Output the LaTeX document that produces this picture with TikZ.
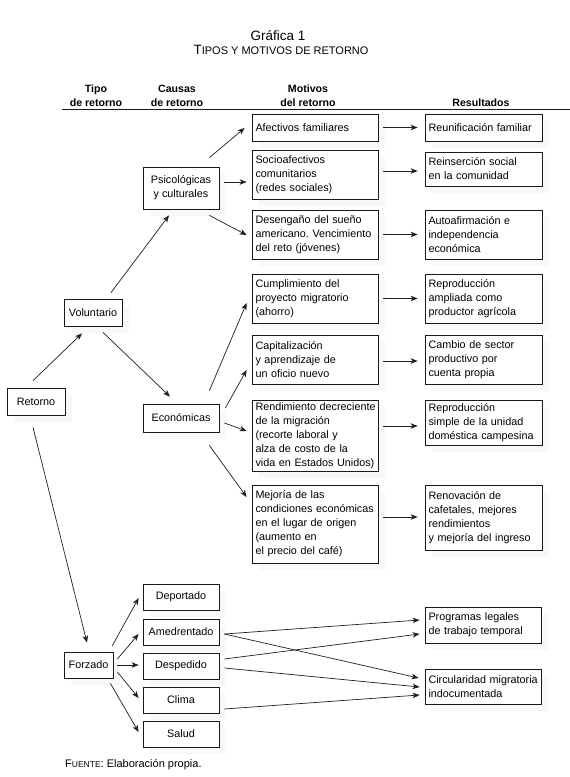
\documentclass[tikz,border=0pt]{standalone}
\usepackage{fontspec}
\setmainfont{Liberation Sans}
\usetikzlibrary{arrows.meta,calc,shadows}
\frenchspacing
\begin{document}
\begin{tikzpicture}[x=1pt,y=-1pt,
  txt/.style={font=\fontsize{10.8}{14}\selectfont},
  hd/.style={font=\bfseries\fontsize{10.6}{13}\selectfont, inner sep=0pt},
  bx/.style={draw=black!90, line width=0.75pt, fill=white, inner ysep=0pt, txt,
    drop shadow={shadow xshift=7pt, shadow yshift=-7pt, fill=black!5}},
  cbox/.style={bx, align=center, inner xsep=0pt},
  lbox/.style={bx, align=left, inner xsep=3.5pt, text width=#1},
  arr/.style={draw=black!88, line width=0.7pt, -{Stealth[length=7pt,width=5.5pt,inset=2pt]}}
]
\useasboundingbox (0,0) rectangle (570,777);
\fill[white] (0,0) rectangle (570,777);

% title
\node[inner sep=0pt, anchor=base, font=\fontsize{13.5}{16}\selectfont] (t1) at (278,40) {Gráfica 1};
\node[inner sep=0pt, anchor=base] (t2) at (281,54) {{\fontsize{13.5}{16}\selectfont T}{\fontsize{11}{16}\selectfont IPOS Y MOTIVOS DE RETORNO}};

% headers
\node[hd, anchor=base] (h1a) at (96,92) {Tipo};
\node[hd, anchor=base] (h1b) at (96,106) {de retorno};
\node[hd, anchor=base] (h2a) at (177,92) {Causas};
\node[hd, anchor=base] (h2b) at (177,106) {de retorno};
\node[hd, anchor=base] (h3a) at (308,92) {Motivos};
\node[hd, anchor=base] (h3b) at (308,106) {del retorno};
\node[hd, anchor=base] (h4) at (481,106) {Resultados};
\coordinate (rl) at (62,109.5);
\coordinate (rr) at (570,109.5);
\draw[line width=0.8pt, black!90] (rl) -- (rr);

% type boxes
\node[cbox, minimum width=58pt, minimum height=27pt] (ret) at (36,401.5) {Retorno};
\node[cbox, minimum width=58pt, minimum height=27pt] (vol) at (93,312.5) {Voluntario};
\node[cbox, minimum width=49pt, minimum height=26pt] (forz) at (88.5,665) {Forzado};

% causes
\node[cbox, minimum width=76pt, minimum height=42pt] (psi) at (181,188) {Psicológicas\\y culturales};
\node[cbox, minimum width=76pt, minimum height=28pt] (eco) at (181,418) {Económicas};
\node[cbox, minimum width=76pt, minimum height=26pt] (dep) at (181,597) {Deportado};
\node[cbox, minimum width=76pt, minimum height=26pt] (ame) at (181,632) {Amedrentado};
\node[cbox, minimum width=76pt, minimum height=26pt] (desp) at (181,666) {Despedido};
\node[cbox, minimum width=76pt, minimum height=26pt] (cli) at (181,700) {Clima};
\node[cbox, minimum width=76pt, minimum height=26pt] (sal) at (181,734) {Salud};

% motives
\node[lbox=119pt, minimum height=27pt] (m1) at (315,127.5) {Afectivos familiares};
\node[lbox=119pt, minimum height=49pt] (m2) at (315,174.5) {Socioafectivos\\comunitarios\\(redes sociales)};
\node[lbox=119pt, minimum height=49pt] (m3) at (315,234.5) {Desengaño del sueño\\\mbox{americano. Vencimiento}\\del reto (jóvenes)};
\node[lbox=119pt, minimum height=49pt] (m4) at (315,298.5) {Cumplimiento del\\proyecto migratorio\\(ahorro)};
\node[lbox=119pt, minimum height=49pt] (m5) at (315,359.5) {Capitalización\\y aprendizaje de\\un oficio nuevo};
\node[lbox=119pt, minimum height=71pt] (m6) at (315,435.5) {\mbox{Rendimiento decreciente}\\de la migración\\(recorte laboral y\\alza de costo de la\\\mbox{vida en Estados Unidos)}};
\node[lbox=119pt, minimum height=78pt] (m7) at (315,524) {Mejoría de las\\\mbox{condiciones económicas}\\en el lugar de origen\\(aumento en\\el precio del café)};

% results
\node[lbox=110pt, minimum height=27pt] (r1) at (483.5,127.5) {Reunificación familiar};
\node[lbox=110pt, minimum height=34pt] (r2) at (483.5,169) {Reinserción social\\en la comunidad};
\node[lbox=110pt, minimum height=49pt] (r3) at (483.5,234.5) {Autoafirmación e\\independencia\\económica};
\node[lbox=110pt, minimum height=49pt] (r4) at (483.5,298.5) {Reproducción\\ampliada como\\productor agrícola};
\node[lbox=110pt, minimum height=49pt] (r5) at (483.5,359.5) {Cambio de sector\\productivo por\\cuenta propia};
\node[lbox=110pt, minimum height=45pt] (r6) at (483.5,422.5) {Reproducción\\simple de la unidad\\\mbox{doméstica campesina}};
\node[lbox=110pt, minimum height=65pt] (r7) at (483.5,517.5) {Renovación de\\cafetales, mejores\\rendimientos\\y mejoría del ingreso};
\node[lbox=109pt, minimum height=36pt] (prog) at (483,625) {Programas legales\\de trabajo temporal};
\node[lbox=109pt, minimum height=35pt] (circ) at (483,686.5) {\mbox{Circularidad migratoria}\\indocumentada};

% arrows: type level
\draw[arr] ($(ret.north)+(-3,-7)$) -- ($(vol.south)+(-11,7)$);
\draw[arr] ($(ret.south)+(-3,12)$) -- ($(forz.north)+(-1.5,-9)$);
\draw[arr] ($(vol.north)+(18,-6)$) -- ($(psi.south)+(-12,6)$);
\draw[arr] ($(vol.south)+(10,6)$) -- ($(eco.north)+(-11,-7)$);

% causes to motives
\draw[arr] ($(psi.north east)+(-10,-9)$) -- ($(m1.west)+(-7,0.5)$);
\draw[arr] ($(psi.east)+(5,-6)$) -- ($(m2.west)+(-5,7.5)$);
\draw[arr] ($(psi.south east)+(-10,6)$) -- ($(m3.west)+(-5,0.5)$);
\draw[arr] ($(eco.north east)+(-10,-13)$) -- ($(m4.west)+(-5,4.5)$);
\draw[arr] ($(eco.east)+(6,-10)$) -- ($(m5.west)+(-5,10.5)$);
\draw[arr] ($(eco.east)+(5,5)$) -- ($(m6.west)+(-5,-4.5)$);
\draw[arr] ($(eco.south east)+(-10,13)$) -- ($(m7.west)+(-5,-27)$);

% motives to results
\draw[arr] ($(m1.east)+(5,0)$) -- ($(r1.west)+(-7,0)$);
\draw[arr] ($(m2.east)+(5,-3.5)$) -- ($(r2.west)+(-7,2)$);
\draw[arr] ($(m3.east)+(5,0)$) -- ($(r3.west)+(-7,0)$);
\draw[arr] ($(m4.east)+(5,0)$) -- ($(r4.west)+(-7,0)$);
\draw[arr] ($(m5.east)+(5,1.5)$) -- ($(r5.west)+(-7,1.5)$);
\draw[arr] ($(m6.east)+(5,-9.5)$) -- ($(r6.west)+(-7,3.5)$);
\draw[arr] ($(m7.east)+(5,-7)$) -- ($(r7.west)+(-7,-0.5)$);

% forced
\draw[arr] ($(forz.north east)+(-1,-6)$) -- ($(dep.west)+(-4,1)$);
\draw[arr] ($(forz.east)+(4,-6)$) -- ($(ame.west)+(-4,2)$);
\draw[arr] ($(forz.east)+(4,0)$) -- ($(desp.west)+(-4,-1)$);
\draw[arr] ($(forz.east)+(4,7)$) -- ($(cli.west)+(-4,-2)$);
\draw[arr] ($(forz.south east)+(-3,5)$) -- ($(sal.west)+(-4,-2)$);

\draw[arr] ($(ame.east)+(5,2)$) -- ($(prog.west)+(-5,-5)$);
\draw[arr] ($(ame.east)+(5,2)$) -- ($(circ.west)+(-6,-8.5)$);
\draw[arr] ($(desp.east)+(5,-7)$) -- ($(prog.west)+(-5,9)$);
\draw[arr] ($(desp.east)+(5,2)$) -- ($(circ.west)+(-5,0.5)$);
\draw[arr] ($(cli.east)+(5,9)$) -- ($(circ.west)+(-5,8.5)$);

% source
\node[inner sep=0pt, anchor=base west] (src) at (65,767) {{\fontsize{11}{13}\selectfont F}{\fontsize{8.5}{13}\selectfont UENTE}{\fontsize{11}{13}\selectfont : Elaboración propia.}};
\end{tikzpicture}
\end{document}
